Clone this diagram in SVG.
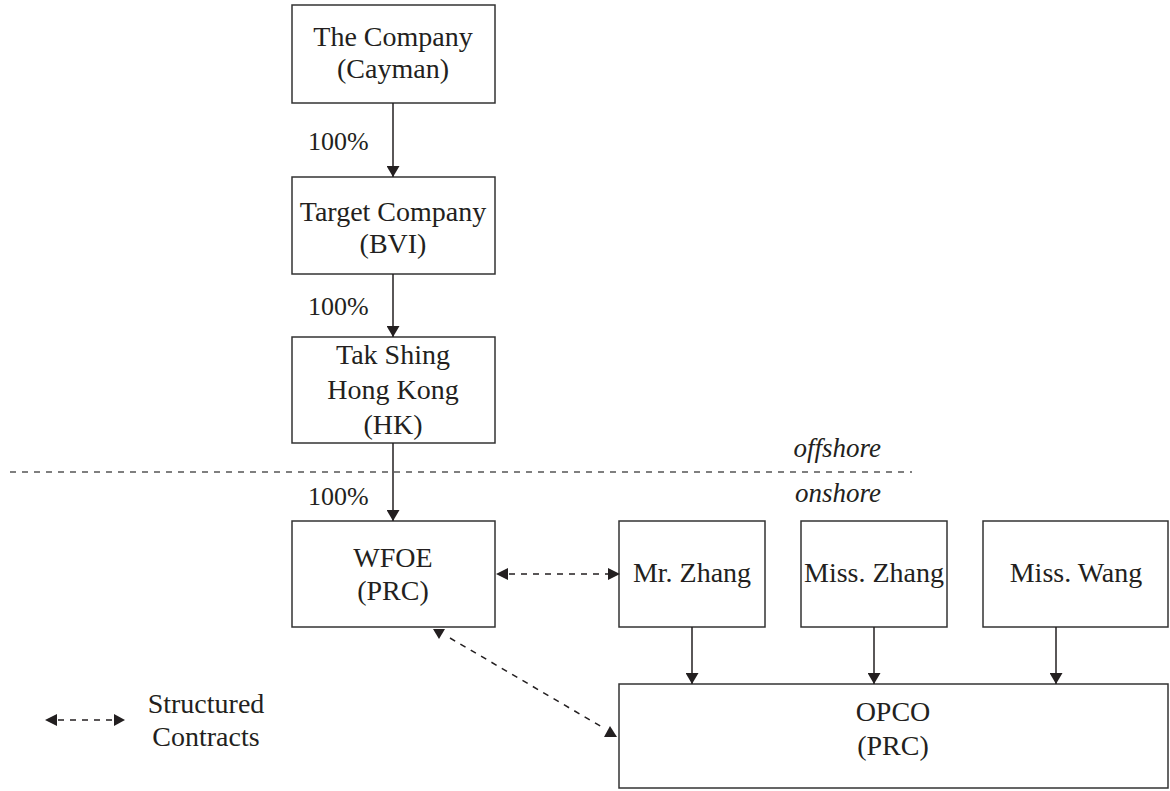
<svg xmlns="http://www.w3.org/2000/svg" width="1170" height="791" viewBox="0 0 1170 791">
<style>
.box{fill:#fff;stroke:#333;stroke-width:1.5}
.t{font-family:"Liberation Serif","Times New Roman",serif;font-size:28px;fill:#231f20;text-anchor:middle}
.l{font-family:"Liberation Serif","Times New Roman",serif;font-size:26px;fill:#231f20}
.i{font-family:"Liberation Serif","Times New Roman",serif;font-size:27px;font-style:italic;fill:#231f20;text-anchor:end}
.ln{stroke:#231f20;stroke-width:1.5;fill:none}
.dl{stroke:#231f20;stroke-width:1.5;fill:none;stroke-dasharray:6 6}
.ah{fill:#231f20}
</style>
<defs>
<marker id="arr" viewBox="0 0 11 13" refX="11" refY="6.5" markerWidth="11" markerHeight="13" markerUnits="userSpaceOnUse" orient="auto">
<path d="M0,0 L11,6.5 L0,13 Z" fill="#231f20"/>
</marker>
</defs>
<line x1="10" y1="472" x2="912" y2="472" stroke="#555" stroke-width="1.3" stroke-dasharray="6 6"/>
<text class="i" x="881" y="457">offshore</text>
<text class="i" x="881" y="502">onshore</text>
<g id="company"><rect class="box" x="292" y="5" width="203" height="98"/><text class="t" x="393" y="46">The Company</text><text class="t" x="393" y="78">(Cayman)</text></g>
<g id="target"><rect class="box" x="292" y="177" width="203" height="97"/><text class="t" x="393" y="221">Target Company</text><text class="t" x="393" y="253">(BVI)</text></g>
<g id="takshing"><rect class="box" x="292" y="337" width="203" height="106"/><text class="t" x="393" y="364">Tak Shing</text><text class="t" x="393" y="399">Hong Kong</text><text class="t" x="393" y="434">(HK)</text></g>
<g id="wfoe"><rect class="box" x="292" y="521" width="203" height="106"/><text class="t" x="393" y="567">WFOE</text><text class="t" x="393" y="600">(PRC)</text></g>
<g id="mrzhang"><rect class="box" x="619" y="521" width="146" height="106"/><text class="t" x="692" y="582">Mr. Zhang</text></g>
<g id="misszhang"><rect class="box" x="801" y="521" width="146" height="106"/><text class="t" x="874" y="582">Miss. Zhang</text></g>
<g id="misswang"><rect class="box" x="983" y="521" width="185" height="106"/><text class="t" x="1076" y="582">Miss. Wang</text></g>
<g id="opco"><rect class="box" x="619" y="684" width="549" height="104"/><text class="t" x="893" y="721">OPCO</text><text class="t" x="893" y="755">(PRC)</text></g>
<g id="legend"><line class="dl" x1="58" y1="720" x2="114" y2="720" stroke-dasharray="5 6"/><path class="ah" d="M45,720 L57,714 L57,726 Z"/><path class="ah" d="M125,720 L114,714 L114,726 Z"/><text class="t" x="206" y="713">Structured</text><text class="t" x="206" y="746">Contracts</text></g>
<g id="connectors">
<line class="ln" x1="393" y1="103" x2="393" y2="177" marker-end="url(#arr)"/>
<text class="l" x="308" y="150">100%</text>
<line class="ln" x1="393" y1="274" x2="393" y2="337" marker-end="url(#arr)"/>
<text class="l" x="308" y="315">100%</text>
<line class="ln" x1="393" y1="443" x2="393" y2="521" marker-end="url(#arr)"/>
<text class="l" x="308" y="505">100%</text>
<line class="ln" x1="692" y1="627" x2="692" y2="684" marker-end="url(#arr)"/>
<line class="ln" x1="874" y1="627" x2="874" y2="684" marker-end="url(#arr)"/>
<line class="ln" x1="1056" y1="627" x2="1056" y2="684" marker-end="url(#arr)"/>
<line class="dl" x1="509" y1="574" x2="608" y2="574"/>
<path class="ah" d="M496,574 L508,568 L508,580 Z"/>
<path class="ah" d="M620,574 L608,568 L608,580 Z"/>
<line class="dl" x1="450" y1="638" x2="602" y2="727"/>
<path class="ah" d="M433,629 L445,629 L439,639 Z"/>
<path class="ah" d="M604,737 L617,737 L610,726 Z"/>
</g>
</svg>
